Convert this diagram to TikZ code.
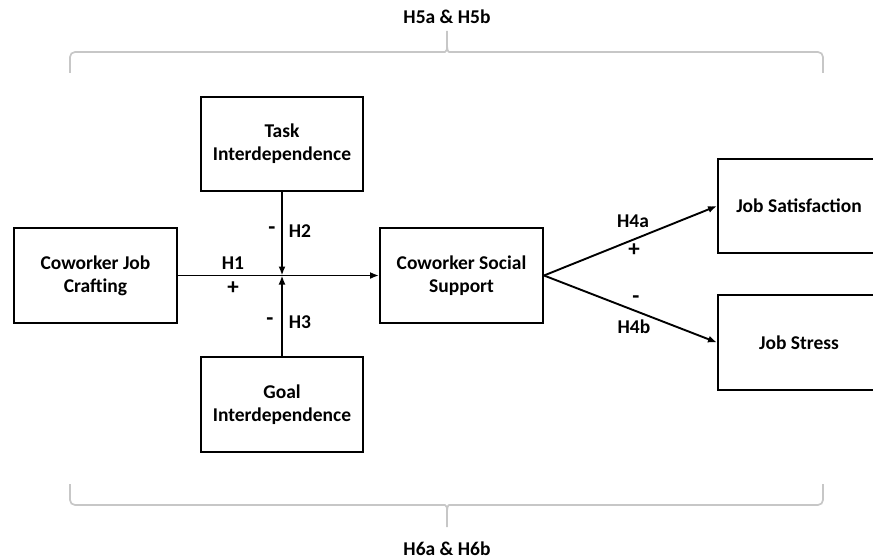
\documentclass[tikz,border=0pt]{standalone}
\usepackage{fontspec}
\setmainfont{Carlito}
\usetikzlibrary{arrows.meta}
\tikzset{
  box/.style={draw=black, line width=2pt, fill=white, align=center, inner sep=2pt,
    minimum width=162pt, font=\bfseries\fontsize{19.5}{23}\selectfont},
  lbl/.style={inner sep=0pt, font=\bfseries\fontsize{19.5}{23}\selectfont},
  sgn/.style={inner sep=0pt, font=\bfseries\fontsize{23}{26}\selectfont},
  arr/.style={line width=1.9pt, -{Latex[length=9pt,width=7pt]}},
  brace/.style={draw=black!22, line width=1.7pt, rounded corners=5pt}
}
\begin{document}
\begin{tikzpicture}[x=1pt,y=-1pt]
\useasboundingbox (0,0) rectangle (873,559);
% boxes
\node[box, minimum height=94pt] (task) at (282,144) {Task\\Interdependence};
\node[box, minimum height=95pt] (goal) at (282,404.5) {Goal\\Interdependence};
\node[box, minimum width=163pt, minimum height=95pt] (cjc) at (95.5,275.5) {Coworker Job\\Crafting};
\node[box, minimum width=163pt, minimum height=95pt] (css) at (461.5,275.5) {Coworker Social\\Support};
\node[box, minimum height=94pt] (js) at (799,206) {Job Satisfaction};
\node[box, minimum height=95pt] (jst) at (799,342.5) {Job Stress};
\coordinate (j) at (282,275.5);
% connectors
\draw[arr] (cjc.east) -- (css.west);
\draw[arr] (task.south) -- (j);
\draw[arr] (goal.north) -- (j);
\draw[arr] (css.east) -- (js.west);
\draw[arr] (css.east) -- (jst.west);
% labels
\node[lbl] (h1) at (233,263) {H1};
\node[sgn] (p1) at (233,288) {+};
\node[sgn] (m2) at (272,231) {-};
\node[lbl] (h2) at (300,231) {H2};
\node[sgn] (m3) at (270,322) {-};
\node[lbl] (h3) at (300,322) {H3};
\node[lbl] (h4a) at (633,221) {H4a};
\node[sgn] (p4) at (634,250) {+};
\node[sgn] (m4) at (636,300) {-};
\node[lbl] (h4b) at (634,327) {H4b};
% top brace
\coordinate (tl) at (70,73);
\coordinate (tr) at (823,73);
\coordinate (tt) at (447,31);
\draw[brace] (tl) |- (440,52) .. controls (446,52) and (447,49) .. (447,44) -- (tt);
\draw[brace] (tr) |- (454,52) .. controls (448,52) and (447,49) .. (447,44);
\node[lbl] (h5) at (447,17) {H5a \& H5b};
% bottom brace
\coordinate (bl) at (70,484);
\coordinate (br) at (823,484);
\coordinate (bt) at (447,527);
\draw[brace] (bl) |- (440,505) .. controls (446,505) and (447,508) .. (447,513) -- (bt);
\draw[brace] (br) |- (454,505) .. controls (448,505) and (447,508) .. (447,513);
\node[lbl] (h6) at (447,549) {H6a \& H6b};
\end{tikzpicture}
\end{document}
